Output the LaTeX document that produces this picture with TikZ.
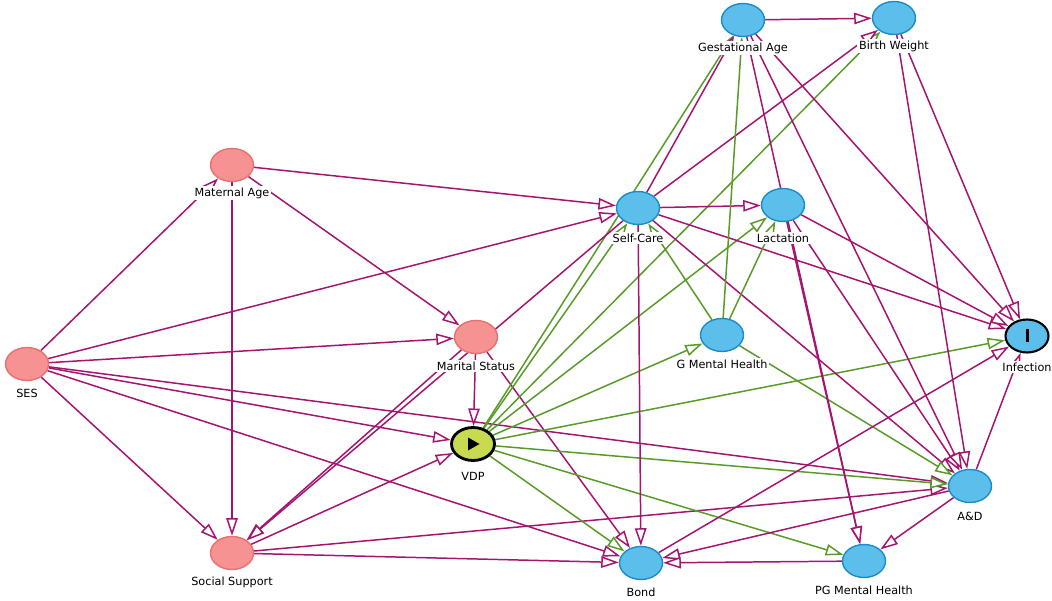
\documentclass[tikz,border=0pt]{standalone}
\usepackage{fontspec}
\setsansfont{DejaVu Sans}
\usetikzlibrary{positioning, arrows.meta, shapes.geometric, backgrounds}

\definecolor{biasline}{RGB}{165,20,112}
\definecolor{causalline}{RGB}{88,155,40}
\definecolor{varfill}{RGB}{92,190,235}
\definecolor{vardraw}{RGB}{28,140,200}
\definecolor{adjfill}{RGB}{246,146,146}
\definecolor{adjdraw}{RGB}{232,112,112}
\definecolor{expofill}{RGB}{200,218,80}

\begin{document}
\begin{tikzpicture}[x=0.02cm, y=-0.02cm,
    var/.style={ellipse, minimum width=0.86cm, minimum height=0.66cm, inner sep=0pt,
                line width=0.8pt, fill=varfill, draw=vardraw},
    adj/.style={var, fill=adjfill, draw=adjdraw},
    expo/.style={var, fill=expofill, draw=black, line width=1.6pt},
    outc/.style={var, draw=black, line width=1.2pt},
    vlabel/.style={fill=white, inner sep=1pt, font=\sffamily\fontsize{6.4}{7}\selectfont},
    bias/.style={-{Triangle[length=10pt, width=6.5pt, fill=white]}, line width=0.85pt, draw=biasline},
    causal/.style={bias, draw=causalline}
]
    \useasboundingbox (0,0) rectangle (1052,601);

    % Variables
    \node[var] (ges) at (743,20) {};
    \node[var] (bw) at (894,18) {};
    \node[adj] (mat) at (232,165) {};
    \node[var] (self) at (638,208) {};
    \node[var] (lac) at (783,205) {};
    \node[adj] (mar) at (476,337) {};
    \node[var] (gmh) at (722,335) {};
    \node[outc] (inf) at (1027,336) {};
    \node[adj] (ses) at (27,364) {};
    \node[expo] (vdp) at (473,444) {};
    \node[var] (ad) at (970,486) {};
    \node[adj] (soc) at (232,553) {};
    \node[var] (bond) at (641,563) {};
    \node[var] (pgmh) at (864,561) {};

    % Exposure and outcome marks
    \fill[black] (468,437.5) -- (479.5,444) -- (468,450.5) -- cycle;
    \fill[black] (1025.5,329.5) rectangle (1028.5,342.5);

    \begin{scope}[on background layer]
    % SES
    \draw[bias] (ses) -- (mat);
    \draw[bias] (ses) -- (self);
    \draw[bias] (ses) -- (mar);
    \draw[bias] (ses) -- (vdp);
    \draw[bias] (ses) -- (ad);
    \draw[bias] (ses) -- (bond);
    \draw[bias] (ses) -- (soc);

    % Maternal Age
    \draw[bias] (mat) -- (self);
    \draw[bias] (mat) -- (mar);
    \draw[bias] (mat) -- (soc);

    % Marital Status
    \draw[bias] (mar) -- (vdp);
    \draw[bias] (mar) -- (bond);
    \draw[bias] (mar) -- (soc);

    % Social Support
    \draw[bias] (soc) -- (vdp);
    \draw[bias] (soc) -- (bond);
    \draw[bias] (soc) -- (ad);

    % VDP
    \draw[causal] (vdp) -- (self);
    \draw[causal] (vdp) -- (ges);
    \draw[causal] (vdp) -- (bw);
    \draw[causal] (vdp) -- (lac);
    \draw[causal] (vdp) -- (gmh);
    \draw[causal] (vdp) -- (inf);
    \draw[causal] (vdp) -- (ad);
    \draw[causal] (vdp) -- (pgmh);
    \draw[causal] (vdp) -- (bond);

    % Self-Care
    \draw[bias] (self) -- (lac);
    \draw[bias] (self) -- (inf);
    \draw[bias] (self) -- (ad);
    \draw[bias] (self) -- (bond);
    \draw[bias] (self) -- (bw);
    \draw[bias] (self) -- (ges);
    \draw[bias] (self) -- (soc);

    % G Mental Health
    \draw[causal] (gmh) -- (self);
    \draw[causal] (gmh) -- (lac);
    \draw[causal] (gmh) -- (ges);
    \draw[causal] (gmh) -- (ad);

    % Lactation
    \draw[bias] (lac) -- (inf);
    \draw[bias] (lac) -- (ad);
    \draw[bias] (lac) -- (pgmh);

    % Gestational Age and Birth Weight
    \draw[bias] (ges) -- (bw);
    \draw[bias] (ges) -- (inf);
    \draw[bias] (ges) -- (ad);
    \draw[bias] (ges) -- (pgmh);
    \draw[bias] (bw) -- (inf);
    \draw[bias] (bw) -- (ad);

    % A&D, Bond, PG Mental Health
    \draw[bias] (ad) -- (inf);
    \draw[bias] (ad) -- (pgmh);
    \draw[bias] (ad) -- (bond);
    \draw[bias] (bond) -- (inf);
    \draw[bias] (pgmh) -- (bond);
    \end{scope}

    % Labels
    \node[vlabel] (ges-l) at (743,48) {Gestational Age};
    \node[vlabel] (bw-l) at (894,46) {Birth Weight};
    \node[vlabel] (mat-l) at (232,193) {Maternal Age};
    \node[vlabel] (self-l) at (638,238) {Self-Care};
    \node[vlabel] (lac-l) at (783,238) {Lactation};
    \node[vlabel] (mar-l) at (476,366) {Marital Status};
    \node[vlabel] (gmh-l) at (722,364) {G Mental Health};
    \node[vlabel] (inf-l) at (1027,367) {Infection};
    \node[vlabel] (ses-l) at (27,393) {SES};
    \node[vlabel] (vdp-l) at (473,476) {VDP};
    \node[vlabel] (ad-l) at (970,516) {A\&D};
    \node[vlabel] (soc-l) at (232,582) {Social Support};
    \node[vlabel] (bond-l) at (641,592) {Bond};
    \node[vlabel] (pgmh-l) at (864,590) {PG Mental Health};

\end{tikzpicture}
\end{document}
